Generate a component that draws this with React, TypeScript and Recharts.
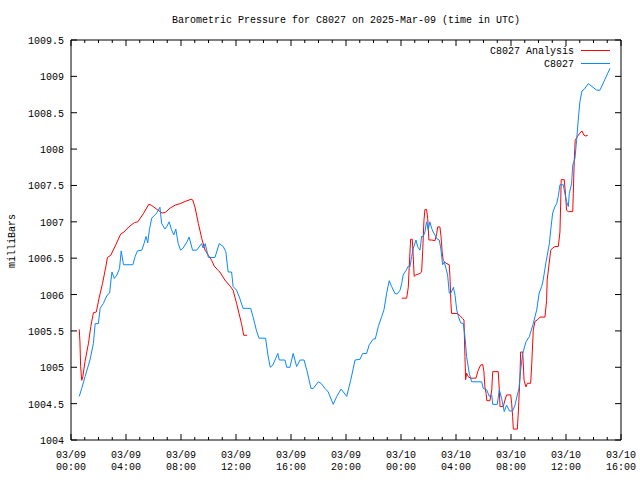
import React from "react";
import { LineChart, Line, XAxis, YAxis } from "recharts";

// hours since 2025-03-09 00:00 UTC
const stationHours = [
  0.6, 0.78, 1.02, 1.38, 1.63, 1.76, 1.99, 2.12, 2.36, 2.62, 2.81, 2.91, 2.98, 3.15, 3.34, 3.53,
  3.65, 3.82, 4.5, 4.66, 4.83, 5.15, 5.31, 5.46, 5.58, 5.7, 5.87, 6.23, 6.47, 6.59, 6.83, 6.95,
  7.14, 7.31, 7.48, 7.62, 7.8, 7.97, 8.16, 8.45, 8.59, 8.84, 9.14, 9.5, 9.61, 9.76, 9.99, 10.47,
  10.78, 11.07, 11.26, 11.43, 11.68, 11.79, 12.04, 12.27, 12.51, 13.07, 13.23, 13.48, 13.67,
  14.15, 14.32, 14.49, 14.68, 15.04, 15.15, 15.56, 15.69, 15.92, 16.16, 16.41, 16.66, 16.95,
  17.18, 17.45, 17.62, 17.99, 18.18, 18.47, 18.71, 19.07, 19.33, 19.64, 20.05, 20.34, 20.66,
  21.02, 21.21, 21.5, 21.69, 21.99, 22.13, 22.35, 22.6, 22.76, 22.96, 23.14, 23.32, 23.57,
  23.73, 23.93, 24.05, 24.16, 24.36, 24.53, 24.65, 24.77, 24.9, 25.09, 25.21, 25.38, 25.5,
  25.62, 25.74, 25.86, 25.98, 26.1, 26.23, 26.34, 26.47, 26.6, 26.78, 26.89, 27.03, 27.15,
  27.27, 27.39, 27.51, 27.63, 27.81, 27.93, 28.05, 28.17, 28.34, 28.53, 28.65, 28.77, 28.96,
  29.14, 29.87, 29.98, 30.23, 30.42, 30.6, 30.67, 31.0, 31.15, 31.32, 31.51, 31.68, 31.88,
  32.12, 32.29, 32.46, 32.58, 32.7, 32.85, 33.09, 33.33, 33.62, 33.87, 34.05, 34.23, 34.34,
  34.55, 34.79, 34.89, 35.03, 35.2, 35.32, 35.44, 35.56, 35.8, 35.92, 36.04, 36.17, 36.24,
  36.41, 36.49, 36.65, 36.77, 36.89, 37.01, 37.16, 37.32, 37.62, 38.23, 38.47, 39.2,
];
const stationPressure = [
  1004.6, 1004.71, 1004.87, 1005.1, 1005.33, 1005.6, 1005.6, 1005.81, 1005.88, 1005.99, 1006.02,
  1006.2, 1006.31, 1006.22, 1006.27, 1006.36, 1006.6, 1006.41, 1006.41, 1006.52, 1006.6, 1006.61,
  1006.7, 1006.8, 1006.71, 1006.89, 1007.05, 1007.12, 1007.2, 1006.98, 1006.9, 1006.93, 1007.0,
  1006.89, 1006.82, 1006.9, 1006.7, 1006.61, 1006.64, 1006.73, 1006.79, 1006.61, 1006.61,
  1006.7, 1006.64, 1006.7, 1006.51, 1006.51, 1006.7, 1006.66, 1006.59, 1006.31, 1006.31,
  1006.11, 1006.06, 1005.95, 1005.81, 1005.81, 1005.7, 1005.51, 1005.4, 1005.4, 1005.17,
  1005.0, 1005.03, 1005.19, 1005.1, 1005.1, 1005.0, 1005.0, 1005.19, 1005.01, 1005.1, 1005.1,
  1004.94, 1004.71, 1004.71, 1004.8, 1004.78, 1004.71, 1004.66, 1004.49, 1004.6, 1004.7,
  1004.6, 1004.82, 1005.1, 1005.11, 1005.19, 1005.19, 1005.31, 1005.39, 1005.39, 1005.56,
  1005.7, 1005.79, 1006.02, 1006.19, 1006.11, 1006.01, 1006.01, 1006.06, 1006.15, 1006.27,
  1006.33, 1006.39, 1006.38, 1006.52, 1006.64, 1006.75, 1006.66, 1006.61, 1006.8, 1006.8,
  1006.86, 1007.0, 1006.89, 1007.0, 1006.91, 1006.86, 1006.82, 1006.77, 1006.75, 1006.64,
  1006.41, 1006.45, 1006.36, 1006.27, 1006.02, 1006.02, 1006.1, 1005.99, 1005.79, 1005.7,
  1005.61, 1005.6, 1005.42, 1005.15, 1004.92, 1004.8, 1004.8, 1004.71, 1004.69, 1004.6,
  1004.62, 1004.49, 1004.49, 1004.69, 1004.57, 1004.39, 1004.48, 1004.4, 1004.4, 1004.48,
  1004.62, 1004.71, 1004.96, 1005.19, 1005.35, 1005.42, 1005.6, 1005.79, 1006.02, 1006.11,
  1006.2, 1006.45, 1006.7, 1006.89, 1007.12, 1007.21, 1007.25, 1007.35, 1007.51, 1007.51,
  1007.39, 1007.28, 1007.21, 1007.39, 1007.53, 1007.78, 1007.87, 1008.12, 1008.4, 1008.65,
  1008.8, 1008.82, 1008.9, 1008.81, 1008.81, 1009.11,
];

// null = no analysis values in that stretch
const analysisHours = [
  0.6, 0.65, 0.7, 0.78, 0.86, 1.02, 1.27, 1.44, 1.63, 1.84, 2.04, 2.29, 2.53, 2.65, 2.89, 3.25,
  3.61, 3.85, 4.21, 4.62, 4.86, 5.29, 5.65, 5.83, 6.26, 6.62, 6.86, 7.22, 7.58, 7.94, 8.3, 8.74,
  8.86, 9.03, 9.26, 9.51, 9.75, 9.99, 10.23, 10.42, 10.71, 10.83, 11.19, 11.55, 11.79, 12.04,
  12.22, 12.4, 12.56, 12.8, 18,
  24.05, 24.41, 24.53, 24.6, 24.7, 24.82, 24.89, 24.96, 25.08, 25.38, 25.5, 25.58, 25.67, 25.74,
  25.86, 25.94, 26.03, 26.23, 26.47, 26.6, 26.67, 26.83, 26.91, 27.0, 27.07, 27.27, 27.51,
  27.56, 27.63, 27.68, 28.09, 28.29, 28.48, 28.58, 28.6, 28.65, 28.7, 28.77, 28.89, 29.07,
  29.45, 29.62, 29.79, 29.94, 30.03, 30.1, 30.19, 30.24, 30.47, 30.6, 30.67, 31.07, 31.15,
  31.2, 31.44, 31.56, 31.68, 31.98, 32.05, 32.12, 32.17, 32.46, 32.53, 32.65, 32.7, 32.85,
  32.95, 33.09, 33.19, 33.43, 33.51, 33.62, 33.74, 33.91, 34.11, 34.47, 34.59, 34.63, 34.89,
  35.03, 35.2, 35.44, 35.56, 35.61, 35.65, 35.87, 35.97, 36.04, 36.17, 36.49, 36.53, 36.6,
  36.67, 36.82, 37.01, 37.16, 37.31, 37.43, 37.58,
];
const analysisPressure = [
  1005.52, 1005.35, 1005.01, 1004.82, 1004.87, 1005.08, 1005.33, 1005.56, 1005.75, 1005.76,
  1005.95, 1006.15, 1006.38, 1006.51, 1006.54, 1006.68, 1006.83, 1006.86, 1006.93, 1006.99,
  1007.0, 1007.12, 1007.24, 1007.23, 1007.17, 1007.12, 1007.13, 1007.19, 1007.23, 1007.25,
  1007.28, 1007.31, 1007.3, 1007.19, 1006.98, 1006.77, 1006.61, 1006.54, 1006.47, 1006.39,
  1006.33, 1006.31, 1006.2, 1006.12, 1006.06, 1005.88, 1005.74, 1005.6, 1005.44, 1005.44, null,
  1005.95, 1005.95, 1006.1, 1006.39, 1006.76, 1006.76, 1006.52, 1006.25, 1006.27, 1006.29,
  1006.31, 1006.61, 1007.02, 1007.17, 1007.17, 1007.05, 1006.75, 1006.75, 1006.74, 1006.84,
  1006.93, 1006.93, 1006.8, 1006.57, 1006.47, 1006.43, 1006.41, 1006.25, 1005.88, 1005.74,
  1005.74, 1005.71, 1005.67, 1005.65, 1005.49, 1005.15, 1004.83, 1004.92, 1004.87, 1004.85,
  1004.85, 1004.96, 1005.03, 1005.04, 1004.94, 1004.73, 1004.64, 1004.54, 1004.54, 1004.69,
  1004.94, 1004.94, 1004.69, 1004.46, 1004.46, 1004.55, 1004.62, 1004.62, 1004.5, 1004.32,
  1004.15, 1004.15, 1004.37, 1004.87, 1005.21, 1005.21, 1004.82, 1004.73, 1004.78, 1004.78,
  1005.05, 1005.51, 1005.63, 1005.65, 1005.69, 1005.69, 1005.92, 1006.2, 1006.61, 1006.64,
  1006.66, 1006.66, 1006.86, 1007.23, 1007.58, 1007.58, 1007.37, 1007.16, 1007.14, 1007.14,
  1007.39, 1007.85, 1008.12, 1008.17, 1008.22, 1008.25, 1008.19, 1008.18, 1008.19,
];

const hourTicks = Array.from({ length: 41 }, (_, i) => i);
const pressureTicks = [1004, 1004.5, 1005, 1005.5, 1006, 1006.5, 1007, 1007.5, 1008, 1008.5, 1009, 1009.5];

const stationData = stationHours.map((t, i) => ({ t, p: stationPressure[i] }));
const analysisData = analysisHours.map((t, i) => ({ t, p: analysisPressure[i] }));

const FONT = "'Liberation Mono', 'DejaVu Sans Mono', monospace";
const RED = "#ff0000";
const BLUE = "#0a88ff";

const pad = (n: number) => String(n).padStart(2, "0");
const dayLabel = (h: number) => `03/${pad(9 + Math.floor(h / 24))}`;
const timeLabel = (h: number) => `${pad(h % 24)}:00`;

const BottomTick = ({ x, y, payload }: any) => {
  const major = payload.value % 4 === 0;
  return (
    <g>
      <line x1={x} y1={y} x2={x} y2={y - (major ? 6 : 3)} stroke="#000" />
      {major && (
        <text x={x} y={y + 18} textAnchor="middle" fontFamily={FONT} fontSize={10} fill="#000">
          <tspan x={x}>{dayLabel(payload.value)}</tspan>
          <tspan x={x} dy={12}>{timeLabel(payload.value)}</tspan>
        </text>
      )}
    </g>
  );
};

const TopTick = ({ x, y, payload }: any) => (
  <line x1={x} y1={y} x2={x} y2={y + (payload.value % 4 === 0 ? 6 : 3)} stroke="#000" />
);

const LeftTick = ({ x, y, payload }: any) => (
  <g>
    <line x1={x} y1={y} x2={x + 6} y2={y} stroke="#000" />
    <text x={x - 7} y={y + 4} textAnchor="end" fontFamily={FONT} fontSize={10} fill="#000">
      {payload.value}
    </text>
  </g>
);

const RightTick = ({ x, y }: any) => <line x1={x} y1={y} x2={x - 6} y2={y} stroke="#000" />;

const App = () => (
  <div style={{ position: "absolute", left: 0, top: 0, width: 640, height: 480, background: "#fff" }}>
    <LineChart width={640} height={480} margin={{ top: 39, right: 18, bottom: 0, left: 0 }}>
      <XAxis
        dataKey="t"
        type="number"
        domain={[0, 40]}
        ticks={hourTicks}
        interval={0}
        height={40}
        tickSize={0}
        tickMargin={0}
        tickLine={false}
        axisLine={{ stroke: "#000" }}
        tick={<BottomTick />}
        allowDataOverflow
      />
      <XAxis
        xAxisId="top"
        orientation="top"
        dataKey="t"
        type="number"
        domain={[0, 40]}
        ticks={hourTicks}
        interval={0}
        height={1}
        tickSize={0}
        tickMargin={0}
        tickLine={false}
        axisLine={{ stroke: "#000" }}
        tick={<TopTick />}
        allowDataOverflow
      />
      <YAxis
        type="number"
        domain={[1004, 1009.5]}
        ticks={pressureTicks}
        interval={0}
        width={71}
        tickSize={0}
        tickMargin={0}
        tickLine={false}
        axisLine={{ stroke: "#000" }}
        tick={<LeftTick />}
        allowDataOverflow
      />
      <YAxis
        yAxisId="right"
        orientation="right"
        type="number"
        domain={[1004, 1009.5]}
        ticks={pressureTicks}
        interval={0}
        width={1}
        tickSize={0}
        tickMargin={0}
        tickLine={false}
        axisLine={{ stroke: "#000" }}
        tick={<RightTick />}
        allowDataOverflow
      />
      <Line
        data={analysisData}
        dataKey="p"
        name="C8027 Analysis"
        type="linear"
        stroke={RED}
        strokeWidth={1}
        dot={false}
        isAnimationActive={false}
      />
      {/* same scales as the bottom/left axes; plotted on the mirror axes so they get drawn */}
      <Line
        data={stationData}
        dataKey="p"
        name="C8027"
        xAxisId="top"
        yAxisId="right"
        type="linear"
        stroke={BLUE}
        strokeWidth={1}
        dot={false}
        isAnimationActive={false}
      />
    </LineChart>
    <svg
      width={640}
      height={480}
      style={{ position: "absolute", left: 0, top: 0, pointerEvents: "none" }}
      fontFamily={FONT}
      fontSize={10}
    >
      <text x={346} y={23} textAnchor="middle">
        Barometric Pressure for C8027 on 2025-Mar-09 (time in UTC)
      </text>
      <text x={15} y={241} textAnchor="middle" transform="rotate(-90 15 241)">
        milliBars
      </text>
      <text x={574} y={54} textAnchor="end">C8027 Analysis</text>
      <line x1={581} y1={50.5} x2={610} y2={50.5} stroke={RED} />
      <text x={574} y={67} textAnchor="end">C8027</text>
      <line x1={581} y1={63.5} x2={610} y2={63.5} stroke={BLUE} />
    </svg>
  </div>
);

export default App;
